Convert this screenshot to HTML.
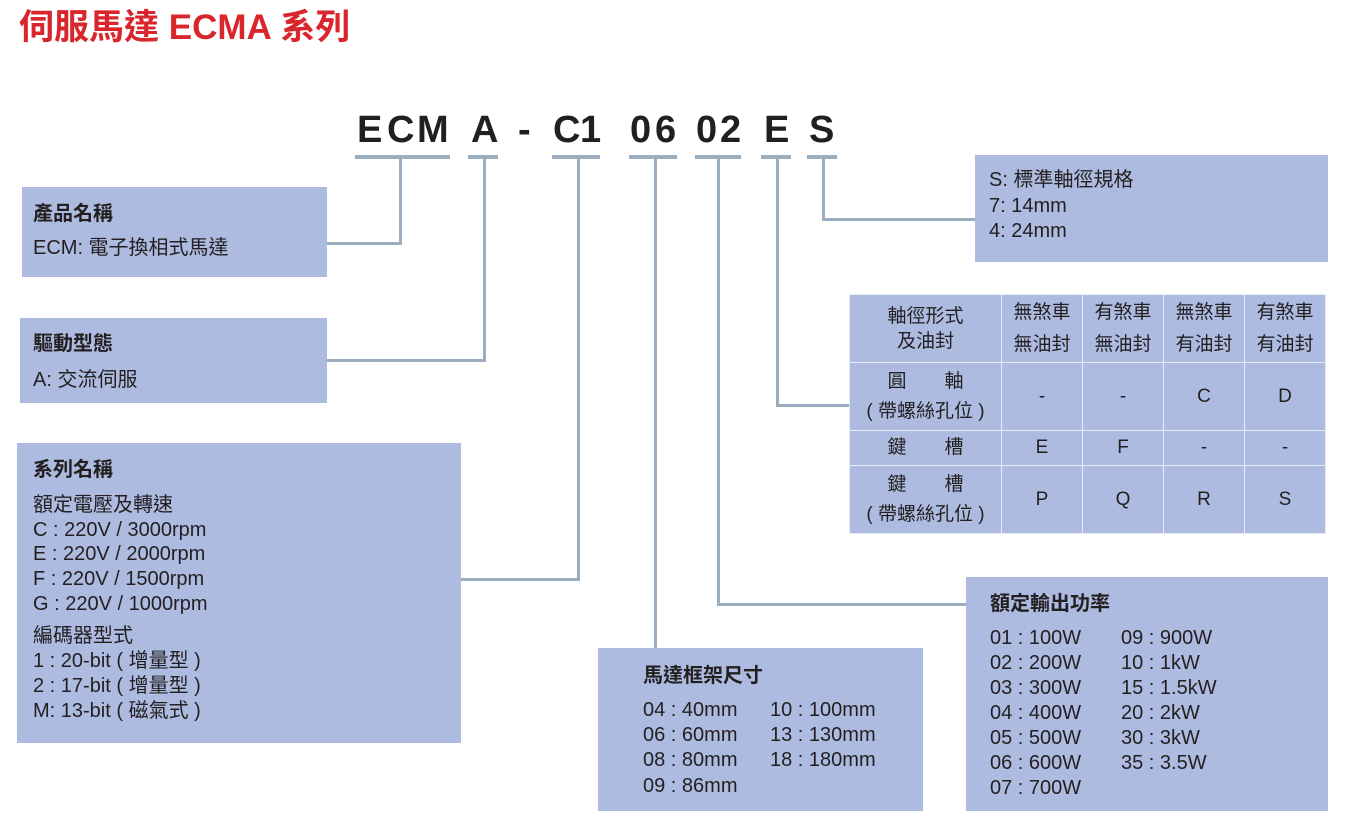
<!DOCTYPE html>
<html><head><meta charset="utf-8"><style>
body{margin:0;width:1352px;height:819px;background:#fff;position:relative;overflow:hidden;font-family:"Liberation Sans","Noto Sans CJK TC",sans-serif;color:#231f20}
.b{position:absolute;background:#adbbe0}
.t{position:absolute;font-size:20px;line-height:22px;white-space:nowrap}
.h{font-weight:bold;font-size:20px}
.l{position:absolute;background:#9aaec0}
.code{position:absolute;top:108px;font-size:38px;font-weight:bold;line-height:44px;color:#231f20}
table{position:absolute;left:849px;top:294px;border-collapse:collapse;background:#adbbe0}
td{border:1.5px solid #e6ebf5;text-align:center;font-size:19px;padding:0;line-height:30px}
</style></head><body>
<div style="position:absolute;left:19px;top:6px;font-size:35px;font-weight:bold;color:#d9262c;line-height:44px">伺服馬達 ECMA 系列</div>

<div class="code" style="left:357px">E</div><div class="code" style="left:387px">C</div><div class="code" style="left:417px">M</div>
<div class="code" style="left:471px">A</div><div class="code" style="left:518px">-</div>
<div class="code" style="left:553px">C</div><div class="code" style="left:580px">1</div>
<div class="code" style="left:630px">0</div><div class="code" style="left:655px">6</div>
<div class="code" style="left:696px">0</div><div class="code" style="left:720px">2</div>
<div class="code" style="left:764px">E</div><div class="code" style="left:809px">S</div>

<div class="l" style="left:355px;top:155px;width:95px;height:4px"></div>
<div class="l" style="left:468px;top:155px;width:30px;height:4px"></div>
<div class="l" style="left:552px;top:155px;width:48px;height:4px"></div>
<div class="l" style="left:629px;top:155px;width:48px;height:4px"></div>
<div class="l" style="left:695px;top:155px;width:46px;height:4px"></div>
<div class="l" style="left:761px;top:155px;width:30px;height:4px"></div>
<div class="l" style="left:807px;top:155px;width:30px;height:4px"></div>

<div class="l" style="left:399px;top:157px;width:3px;height:88px"></div>
<div class="l" style="left:327px;top:242px;width:75px;height:3px"></div>
<div class="l" style="left:483px;top:157px;width:3px;height:205px"></div>
<div class="l" style="left:327px;top:359px;width:159px;height:3px"></div>
<div class="l" style="left:577px;top:157px;width:3px;height:424px"></div>
<div class="l" style="left:461px;top:578px;width:119px;height:3px"></div>
<div class="l" style="left:654px;top:157px;width:3px;height:491px"></div>
<div class="l" style="left:717px;top:157px;width:3px;height:449px"></div>
<div class="l" style="left:717px;top:603px;width:249px;height:3px"></div>
<div class="l" style="left:776px;top:157px;width:3px;height:250px"></div>
<div class="l" style="left:776px;top:404px;width:73px;height:3px"></div>
<div class="l" style="left:822px;top:157px;width:3px;height:64px"></div>
<div class="l" style="left:822px;top:218px;width:153px;height:3px"></div>

<div class="b" style="left:22px;top:187px;width:305px;height:90px"></div>
<div class="t h" style="left:33px;top:203px">產品名稱</div>
<div class="t" style="left:33px;top:237px">ECM: 電子換相式馬達</div>

<div class="b" style="left:20px;top:318px;width:307px;height:85px"></div>
<div class="t h" style="left:33px;top:333px">驅動型態</div>
<div class="t" style="left:33px;top:369px">A: 交流伺服</div>

<div class="b" style="left:17px;top:443px;width:444px;height:300px"></div>
<div class="t h" style="left:33px;top:459px">系列名稱</div>
<div class="t" style="left:33px;top:494px">額定電壓及轉速</div>
<div class="t" style="left:33px;top:519px">C : 220V / 3000rpm</div>
<div class="t" style="left:33px;top:543px">E : 220V / 2000rpm</div>
<div class="t" style="left:33px;top:568px">F : 220V / 1500rpm</div>
<div class="t" style="left:33px;top:593px">G : 220V / 1000rpm</div>
<div class="t" style="left:33px;top:625px">編碼器型式</div>
<div class="t" style="left:33px;top:650px">1 : 20-bit ( 增量型 )</div>
<div class="t" style="left:33px;top:675px">2 : 17-bit ( 增量型 )</div>
<div class="t" style="left:33px;top:700px">M: 13-bit ( 磁氣式 )</div>

<div class="b" style="left:598px;top:648px;width:325px;height:163px"></div>
<div class="t h" style="left:643px;top:665px">馬達框架尺寸</div>
<div class="t" style="left:643px;top:699px">04 : 40mm</div>
<div class="t" style="left:643px;top:724px">06 : 60mm</div>
<div class="t" style="left:643px;top:749px">08 : 80mm</div>
<div class="t" style="left:643px;top:775px">09 : 86mm</div>
<div class="t" style="left:770px;top:699px">10 : 100mm</div>
<div class="t" style="left:770px;top:724px">13 : 130mm</div>
<div class="t" style="left:770px;top:749px">18 : 180mm</div>

<div class="b" style="left:966px;top:577px;width:362px;height:234px"></div>
<div class="t h" style="left:990px;top:593px">額定輸出功率</div>
<div class="t" style="left:990px;top:627px">01 : 100W</div>
<div class="t" style="left:990px;top:652px">02 : 200W</div>
<div class="t" style="left:990px;top:677px">03 : 300W</div>
<div class="t" style="left:990px;top:702px">04 : 400W</div>
<div class="t" style="left:990px;top:727px">05 : 500W</div>
<div class="t" style="left:990px;top:752px">06 : 600W</div>
<div class="t" style="left:990px;top:777px">07 : 700W</div>
<div class="t" style="left:1121px;top:627px">09 : 900W</div>
<div class="t" style="left:1121px;top:652px">10 : 1kW</div>
<div class="t" style="left:1121px;top:677px">15 : 1.5kW</div>
<div class="t" style="left:1121px;top:702px">20 : 2kW</div>
<div class="t" style="left:1121px;top:727px">30 : 3kW</div>
<div class="t" style="left:1121px;top:752px">35 : 3.5W</div>

<div class="b" style="left:975px;top:155px;width:353px;height:107px"></div>
<div class="t" style="left:989px;top:169px">S: 標準軸徑規格</div>
<div class="t" style="left:989px;top:195px">7: 14mm</div>
<div class="t" style="left:989px;top:220px">4: 24mm</div>

<table>
<tr style="height:68px"><td style="width:151px;line-height:25px">軸徑形式<br>及油封</td><td style="width:80px;line-height:32px">無煞車<br>無油封</td><td style="width:80px;line-height:32px">有煞車<br>無油封</td><td style="width:80px;line-height:32px">無煞車<br>有油封</td><td style="width:80px;line-height:32px">有煞車<br>有油封</td></tr>
<tr style="height:68px"><td>圓　　軸<br>( 帶螺絲孔位 )</td><td>-</td><td>-</td><td>C</td><td>D</td></tr>
<tr style="height:35px"><td>鍵　　槽</td><td>E</td><td>F</td><td>-</td><td>-</td></tr>
<tr style="height:68px"><td>鍵　　槽<br>( 帶螺絲孔位 )</td><td>P</td><td>Q</td><td>R</td><td>S</td></tr>
</table>
</body></html>
